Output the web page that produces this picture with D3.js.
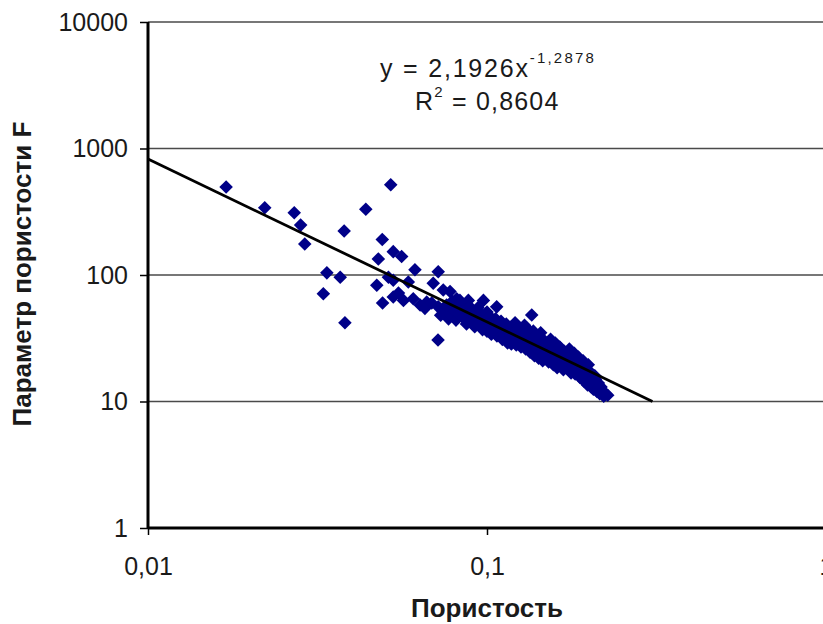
<!DOCTYPE html>
<html>
<head>
<meta charset="utf-8">
<script src="https://cdn.jsdelivr.net/npm/d3@7"></script>
<style>
  body { margin: 0; background: #fff; }
  svg { display: block; font-family: "Liberation Sans", Arial, sans-serif; }
  .grid line { stroke: #4a4a4a; stroke-width: 1.6; }
  .axis path, .axis line { stroke: #000; }
  .axis text { fill: #1a1a1a; font-size: 25px; }
  .title { font-weight: bold; font-size: 26px; fill: #1a1a1a; }
  .eq { font-size: 25px; fill: #1a1a1a; }
</style>
</head>
<body>
<svg id="chart" width="823" height="624"></svg>
<script>
  // porosity (x) and formation factor F (y)
  const porosity = [
    0.0170, 0.0221, 0.0270, 0.0282, 0.0290, 0.0337, 0.0369, 0.0329, 0.0381, 0.0379,
    0.0439, 0.0520, 0.0491, 0.0478, 0.0529, 0.0560, 0.0473, 0.0492, 0.0512, 0.0529,
    0.0529, 0.0548, 0.0567, 0.0586, 0.0606, 0.0613, 0.0635, 0.0664, 0.0656, 0.0694,
    0.0718, 0.0687, 0.0718, 0.0717, 0.0743, 0.0778, 0.0814, 0.0761, 0.0795, 0.0842,
    0.0871, 0.0832, 0.0881, 0.0976, 0.1068, 0.1355, 0.073, 0.075, 0.077,
    0.076, 0.078, 0.079, 0.080, 0.081, 0.082, 0.083, 0.084, 0.085, 0.086,
    0.087, 0.088, 0.089, 0.090, 0.091, 0.092, 0.093, 0.094, 0.095, 0.096,
    0.097, 0.098, 0.099, 0.100, 0.100,
    0.101, 0.102, 0.103, 0.104, 0.105, 0.106, 0.107, 0.108, 0.109, 0.110,
    0.111, 0.112, 0.113, 0.114, 0.115, 0.116, 0.117, 0.118, 0.119, 0.120,
    0.121, 0.122, 0.123, 0.124, 0.125,
    0.126, 0.127, 0.128, 0.129, 0.130, 0.131, 0.132, 0.133, 0.134, 0.135,
    0.136, 0.137, 0.138, 0.139, 0.140, 0.141, 0.142, 0.143, 0.144, 0.145,
    0.146, 0.147, 0.148, 0.149, 0.150,
    0.151, 0.152, 0.153, 0.154, 0.155, 0.157, 0.158, 0.159, 0.160, 0.161,
    0.163, 0.164, 0.165, 0.166, 0.168, 0.169, 0.170, 0.172, 0.173, 0.175,
    0.176, 0.177, 0.178, 0.180,
    0.181, 0.182, 0.184, 0.185, 0.186, 0.188, 0.189, 0.190, 0.192, 0.193,
    0.195, 0.196, 0.198, 0.199, 0.200, 0.202, 0.203, 0.205, 0.206, 0.208,
    0.210, 0.211, 0.213, 0.215, 0.217, 0.219, 0.221, 0.224, 0.227,
    0.094, 0.104, 0.118, 0.128, 0.139, 0.147, 0.156, 0.167, 0.174, 0.183,
    0.191, 0.201, 0.209, 0.214, 0.218
  ];
  const paramF = [
    496, 340, 311, 248, 176, 104, 96, 71, 42, 223,
    331, 517, 191, 134, 153, 140, 83, 60, 96, 91,
    67, 72, 63, 88, 65, 110, 58, 61, 54.5, 86,
    106, 60, 56, 30.6, 76, 74, 65, 54.5, 50, 53,
    47, 63, 63, 63, 56, 48.3, 48, 52, 45,
    58, 48, 62, 52, 44, 57, 49, 60, 46, 53,
    41, 50, 56, 44, 48, 39, 52, 45, 41, 49,
    37, 46, 43, 51, 36,
    40, 47, 34, 42, 38, 45, 33, 40, 36, 43,
    31, 38, 35, 41, 29, 36, 33, 39, 30, 35,
    42, 28, 33, 37, 31,
    27, 35, 30, 40, 26, 38, 29, 36, 24.5, 30,
    27, 36, 23, 29, 31, 26, 22, 28, 35, 25,
    21, 27, 30, 24, 22.5,
    28, 20.5, 25.5, 31, 23, 19.5, 26, 29, 22, 18.5,
    24, 27, 20, 22.5, 17.8, 25, 21, 23.5, 18.5, 26,
    20, 16.8, 22, 19,
    24, 16.5, 20.5, 18, 22.5, 15.5, 19, 17, 21, 14.5,
    18, 16, 13.5, 19.5, 15, 17, 13, 14.5, 12.5, 16,
    13.5, 12, 14, 11.5, 13, 12, 11, 11.5, 11.2,
    55, 36, 28.5, 33, 33, 23, 21, 20, 22, 18.8,
    16, 14, 15, 12.8, 11.8
  ];

  const xTicks = [0.01, 0.1, 1];
  const xTickLabels = ["0,01", "0,1", "1"];
  const yTicks = [1, 10, 100, 1000, 10000];
  const yTickLabels = ["1", "10", "100", "1000", "10000"];

  // power trend y = a * x^b
  const trendA = 2.1926;
  const trendB = -1.2878;
  const trendRange = [0.01, 0.3077];

  const svg = d3.select("#chart");
  const x = d3.scaleLog().domain([0.01, 1]).range([148, 826]);
  const y = d3.scaleLog().domain([1, 10000]).range([528, 22]);

  // horizontal gridlines
  svg.append("g").attr("class", "grid")
    .selectAll("line")
    .data(yTicks.slice(1))
    .enter().append("line")
      .attr("x1", x(0.01))
      .attr("x2", 823)
      .attr("y1", d => y(d))
      .attr("y2", d => y(d));

  // points
  const diamond = d3.symbol().type(d3.symbolSquare).size(92);
  svg.append("g")
    .selectAll("path")
    .data(porosity.map((p, i) => [p, paramF[i]]))
    .enter().append("path")
      .attr("d", diamond)
      .attr("fill", "#000088")
      .attr("transform", d => `translate(${x(d[0])},${y(d[1])}) rotate(45)`);

  // trend line
  svg.append("line")
    .attr("x1", x(trendRange[0]))
    .attr("y1", y(trendA * Math.pow(trendRange[0], trendB)))
    .attr("x2", x(trendRange[1]))
    .attr("y2", y(trendA * Math.pow(trendRange[1], trendB)))
    .attr("stroke", "#000")
    .attr("stroke-width", 2.8);

  // axes
  const yAxis = svg.append("g").attr("class", "axis")
    .attr("transform", `translate(${x(0.01)},0)`)
    .call(d3.axisLeft(y).tickValues(yTicks).tickSize(8).tickPadding(12)
      .tickFormat((d, i) => yTickLabels[i]));
  yAxis.select(".domain").attr("stroke-width", 3).attr("d", `M0,${y(10000)}V${y(1)}`);
  yAxis.selectAll(".tick line").attr("stroke-width", 1.5);

  const xAxis = svg.append("g").attr("class", "axis")
    .attr("transform", `translate(0,${y(1)})`)
    .call(d3.axisBottom(x).tickValues(xTicks).tickSize(7).tickPadding(22)
      .tickFormat((d, i) => xTickLabels[i]));
  xAxis.select(".domain").attr("stroke-width", 3).attr("d", `M${x(0.01)},0H823`);
  xAxis.selectAll(".tick line").attr("stroke-width", 1.5).attr("stroke", "#666");

  // equation
  const eq1 = svg.append("text").attr("class", "eq").attr("x", 380).attr("y", 77)
    .attr("letter-spacing", 1.8);
  eq1.append("tspan").text("y = 2,1926x");
  eq1.append("tspan").attr("font-size", 15).attr("dy", -14).attr("letter-spacing", 2.2).text("-1,2878");

  const eq2 = svg.append("text").attr("class", "eq").attr("x", 415).attr("y", 110)
    .attr("letter-spacing", 1.2);
  eq2.append("tspan").text("R");
  eq2.append("tspan").attr("font-size", 15).attr("dy", -13).text("2");
  eq2.append("tspan").attr("dy", 13).text(" = 0,8604");

  // axis titles
  svg.append("text").attr("class", "title")
    .attr("x", 487).attr("y", 617)
    .attr("text-anchor", "middle")
    .text("Пористость");

  svg.append("text").attr("class", "title")
    .attr("transform", "translate(31,274) rotate(-90)")
    .attr("text-anchor", "middle")
    .text("Параметр пористости F");
</script>
</body>
</html>
